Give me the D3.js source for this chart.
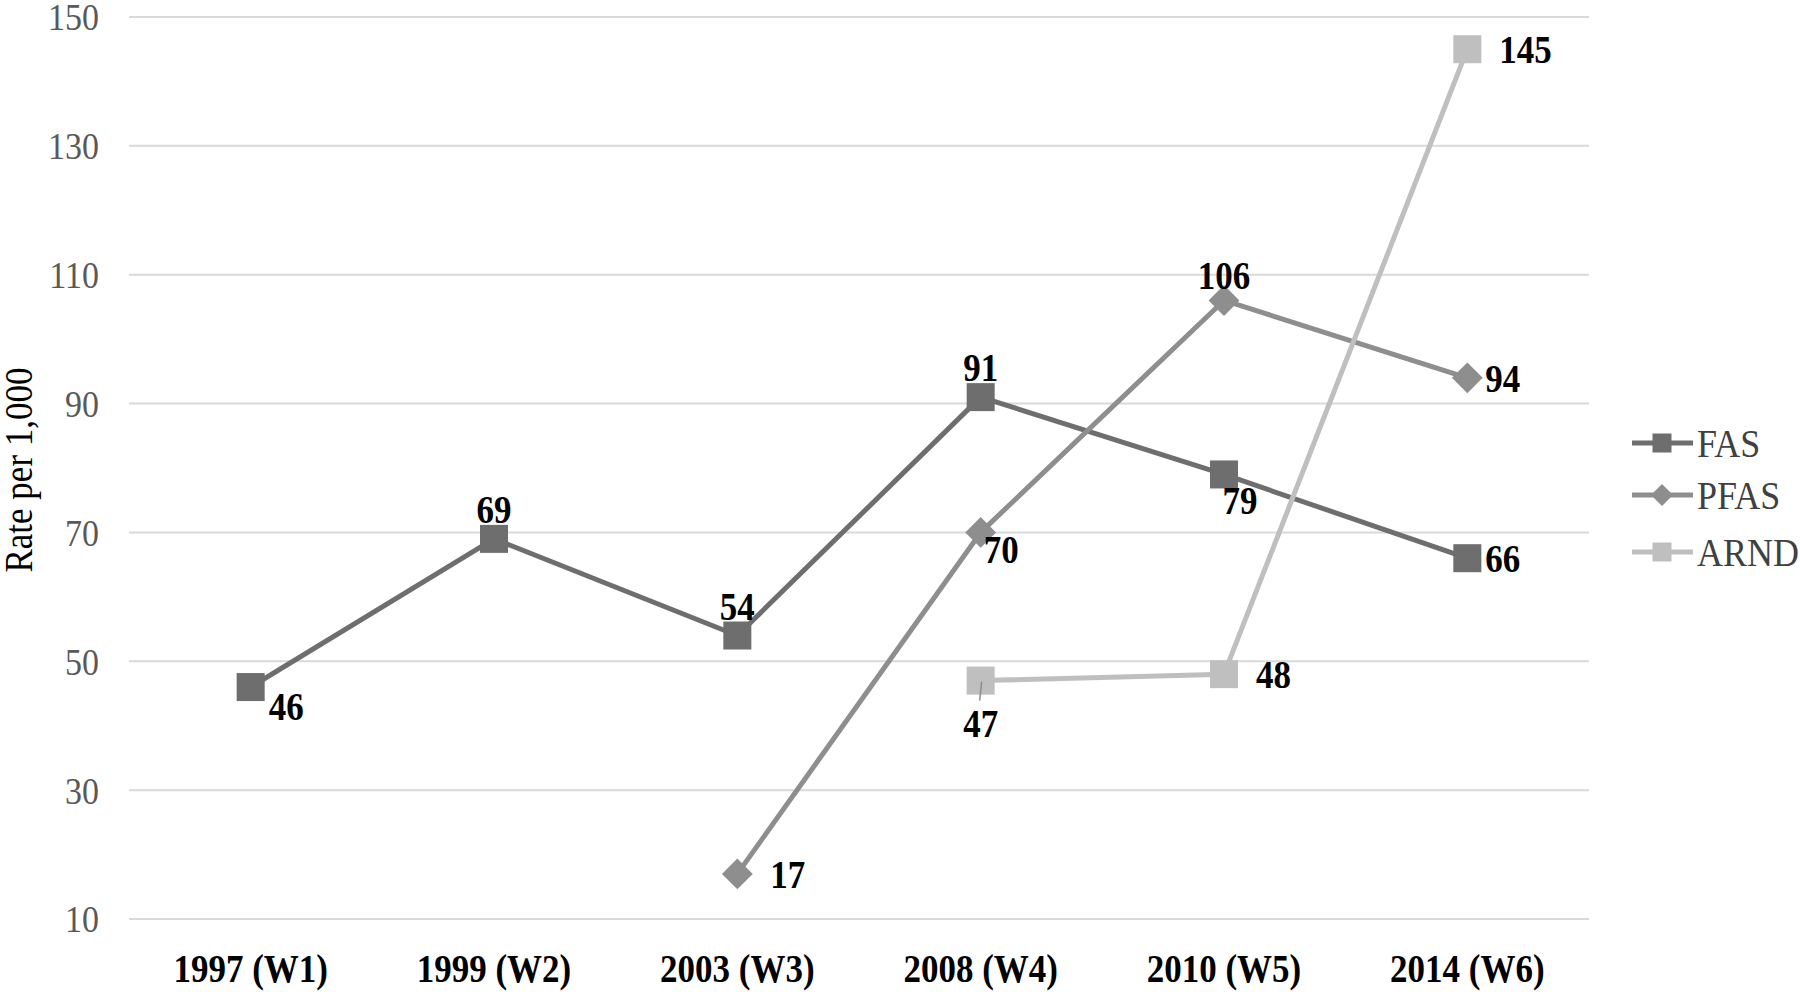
<!DOCTYPE html>
<html>
<head>
<meta charset="utf-8">
<script src="https://cdn.jsdelivr.net/npm/d3@7"></script>
<style>
  html, body { margin: 0; padding: 0; background: #fff; }
  svg { display: block; }
  text { font-family: "Liberation Serif", "Times New Roman", serif; }
</style>
</head>
<body>
<svg id="chart" width="1800" height="992"></svg>
<script>
// ---- data ----
const categories = ["1997 (W1)", "1999 (W2)", "2003 (W3)", "2008 (W4)", "2010 (W5)", "2014 (W6)"];
const seriesNames = ["FAS", "PFAS", "ARND"];
const fasValues  = [46, 69, 54, 91, 79, 66];
const pfasValues = [null, null, 17, 70, 106, 94];
const arndValues = [null, null, null, 47, 48, 145];
const yTicks = [10, 30, 50, 70, 90, 110, 130, 150];
const yTitle = "Rate per 1,000";

// label placement per point (style, not data)
const fasPlace  = ["br", "t", "t", "t", "b", "r"];
const pfasPlace = [null, null, "r", "br", "t", "r"];
const arndPlace = [null, null, null, "b", "r", "r"];

const SY = 1.12; // vertical text stretch seen in the reference
const svg = d3.select("#chart");
const plotLeft = 129, plotRight = 1589, plotTop = 17, plotBottom = 919;

const x = d3.scaleBand().domain(categories).range([plotLeft, plotRight]).padding(0);
const cx = c => x(c) + x.bandwidth() / 2;
const y = d3.scaleLinear().domain([10, 150]).range([plotBottom, plotTop]);

function addText(parent, tx, ty, str) {
  return parent.append("text")
    .attr("transform", `translate(${tx},${ty}) scale(1,${SY})`)
    .text(str);
}

// gridlines
svg.append("g").selectAll("line").data(yTicks).join("line")
  .attr("x1", plotLeft).attr("x2", plotRight)
  .attr("y1", d => y(d)).attr("y2", d => y(d))
  .attr("stroke", "#d9d9d9").attr("stroke-width", 2);

// y axis labels
const yAxis = d3.axisLeft(y).tickValues(yTicks).tickSize(0).tickPadding(0);
const yg = svg.append("g").attr("transform", `translate(99,0)`).call(yAxis);
yg.select(".domain").remove();
yg.selectAll("text")
  .attr("font-family", '"Liberation Serif", serif')
  .attr("font-size", 34).attr("fill", "#595959")
  .attr("x", 0).attr("y", 0).attr("dy", "0.34em")
  .attr("transform", `scale(1,${SY})`);

// x axis labels
const xAxis = d3.axisBottom(x).tickSize(0).tickPadding(0);
const xg = svg.append("g").attr("transform", `translate(0,982)`).call(xAxis);
xg.select(".domain").remove();
xg.selectAll("text")
  .attr("font-family", '"Liberation Serif", serif')
  .attr("font-size", 35).attr("font-weight", "bold").attr("fill", "#000")
  .attr("dy", 0).attr("y", 0)
  .attr("transform", `scale(1,${SY})`);

// y title
svg.append("text")
  .attr("transform", `translate(32,470) rotate(-90) scale(1,${SY})`)
  .attr("text-anchor", "middle")
  .attr("font-size", 35).attr("fill", "#000")
  .text(yTitle);

const series = [
  { name: "FAS",  values: fasValues,  place: fasPlace,  color: "#6e6e6e", shape: "square" },
  { name: "PFAS", values: pfasValues, place: pfasPlace, color: "#8e8e8e", shape: "diamond" },
  { name: "ARND", values: arndValues, place: arndPlace, color: "#bfbfbf", shape: "square" }
];

const line = d3.line()
  .defined(d => d.v != null)
  .x(d => cx(d.c)).y(d => y(d.v));

function drawMarker(g, shape, color, px, py, s) {
  if (shape === "square") {
    g.append("rect").attr("x", px - s / 2).attr("y", py - s / 2)
      .attr("width", s).attr("height", s).attr("fill", color);
  } else {
    const h = s * 0.55;
    g.append("path")
      .attr("d", `M${px},${py - h}L${px + h},${py}L${px},${py + h}L${px - h},${py}Z`)
      .attr("fill", color);
  }
}

series.forEach(s => {
  const pts = categories.map((c, i) => ({ c, v: s.values[i], p: s.place[i] }));
  const g = svg.append("g");
  g.append("path").datum(pts).attr("d", line)
    .attr("fill", "none").attr("stroke", s.color).attr("stroke-width", 5)
    .attr("stroke-linejoin", "round");
  pts.filter(d => d.v != null).forEach(d => {
    drawMarker(g, s.shape, s.color, cx(d.c), y(d.v), 28);
  });
});

// data labels
series.forEach(s => {
  categories.forEach((c, i) => {
    const v = s.values[i];
    if (v == null) return;
    const px = cx(c), py = y(v), p = s.place[i];
    let tx = px, ty = py, anchor = "middle";
    if (p === "t") { ty = py - 16; }
    else if (p === "b") { tx = px + 16; ty = py + 40; }
    else if (p === "r") { tx = px + 18; ty = py + 14; anchor = "start"; }
    else if (p === "br") { tx = px + 18; ty = py + 33; anchor = "start"; }
    if (s.name === "PFAS" && p === "r" && v < 30) tx = px + 33;
    if (s.name === "ARND" && p === "r") tx = px + 32;
    if (s.name === "ARND" && p === "b") {
      tx = px;
      ty = py + 56;
      svg.append("line").attr("x1", px + 1).attr("y1", py + 1).attr("x2", px - 1).attr("y2", py + 20)
        .attr("stroke", "#8e8e8e").attr("stroke-width", 1.5);
    }
    if (s.name === "PFAS" && p === "t") ty = py - 11;
    if (s.name === "PFAS" && p === "br") { tx = px + 3; ty = py + 31; }
    addText(svg, tx, ty, v)
      .attr("text-anchor", anchor)
      .attr("font-size", 35).attr("font-weight", "bold").attr("fill", "#000");
  });
});

// legend
const legY = [443, 495, 552];
series.forEach((s, i) => {
  const g = svg.append("g");
  g.append("line").attr("x1", 1632).attr("x2", 1693).attr("y1", legY[i]).attr("y2", legY[i])
    .attr("stroke", s.color).attr("stroke-width", 5);
  drawMarker(g, s.shape, s.color, 1662, legY[i], s.shape === "square" ? 19 : 20);
  addText(g, 1697, legY[i], s.name).attr("dy", "0.35em")
    .attr("font-size", 36).attr("fill", "#404040");
});
</script>
</body>
</html>
